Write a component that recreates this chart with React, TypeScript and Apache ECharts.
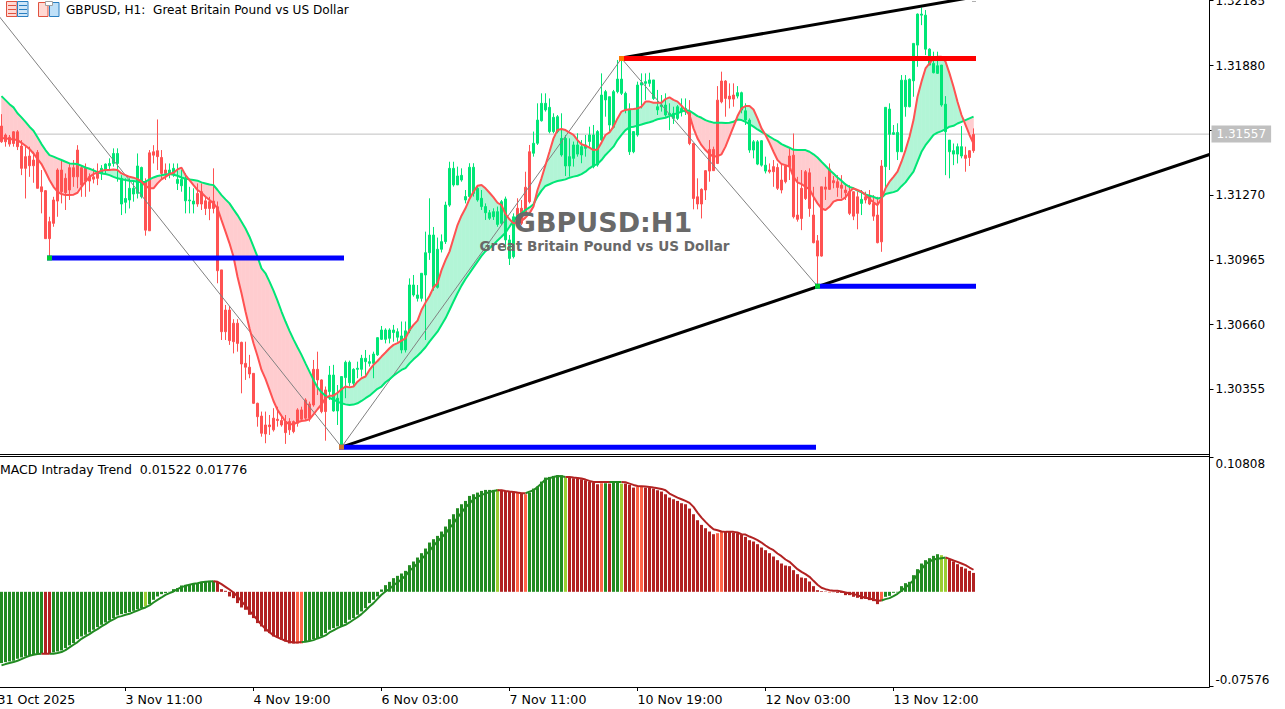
import React, { useEffect, useRef } from "react";
import * as echarts from "echarts";

// Prices are written in points above 1.30000 (1557 = 1.31557). First bar = 31 Oct 2025 04:00, H1.
const BASE = 1.3;
const highs = [
  1651,1560,1553,1571,1576,1529,1498,1498,1474,1482,
  1388,1294,1168,1262,1396,1435,1372,1419,1435,1505,
  1411,1419,1372,1396,1419,1411,1419,1443,1490,1490,
  1364,1349,1349,1341,1466,1404,1349,1482,1505,1626,
  1482,1419,1419,1419,1419,1388,1372,1309,1302,1325,
  1325,1262,1262,1396,1240,918,753,748,686,686,
  580,580,518,431,293,251,251,235,267,274,
  235,235,220,209,267,274,314,298,494,533,
  403,369,466,471,376,416,491,491,455,486,
  518,541,518,533,601,654,643,643,659,643,
  675,675,878,894,847,902,1098,1255,1120,1070,
  1085,1239,1427,1427,1404,1396,1294,1420,1420,1310,
  1294,1231,1200,1208,1216,1247,1263,1082,1184,1255,
  1247,1380,1506,1569,1702,1749,1749,1725,1655,1647,
  1655,1553,1537,1522,1561,1529,1553,1592,1600,1576,
  1843,1765,1733,1765,1906,1914,1757,1702,1569,1804,
  1843,1843,1846,1812,1765,1741,1749,1702,1686,1694,
  1725,1725,1717,1513,1349,1302,1388,1529,1498,1783,
  1851,1811,1796,1796,1783,1757,1702,1631,1529,1529,
  1529,1451,1419,1435,1419,1419,1411,1490,1560,1356,
  1388,1388,1396,1309,1082,1309,1356,1419,1360,1364,
  1364,1325,1317,1286,1286,1294,1286,1294,1270,1262,
  1435,1683,1702,1600,1608,1835,1835,1819,1984,2125,
  2153,2141,1961,1945,1945,1882,1736,1529,1513,1513,
  1595,1498,1482,1584,
];
const bodyHigh = [
  1595,1553,1542,1568,1568,1501,1451,1454,1435,1471,
  1309,1291,1145,1247,1388,1388,1349,1399,1399,1482,
  1399,1399,1356,1356,1380,1396,1416,1419,1466,1466,
  1349,1254,1302,1302,1407,1400,1333,1469,1474,1479,
  1447,1388,1388,1396,1344,1344,1349,1247,1242,1278,
  1286,1243,1239,1242,1215,918,729,729,667,667,
  577,478,460,431,290,230,188,188,220,215,
  209,204,204,204,259,259,306,287,450,450,
  400,353,423,423,314,416,483,483,450,455,
  502,502,486,522,599,635,635,635,635,627,
  607,631,847,847,800,902,999,1082,1082,1015,
  1051,1223,1396,1396,1360,1363,1263,1401,1401,1302,
  1255,1216,1187,1192,1192,1239,1252,1059,1168,1208,
  1208,1307,1474,1514,1623,1702,1702,1683,1636,1639,
  1537,1537,1451,1506,1506,1498,1506,1553,1553,1569,
  1741,1757,1733,1757,1816,1816,1749,1671,1569,1788,
  1799,1804,1812,1812,1686,1694,1694,1655,1655,1686,
  1678,1678,1662,1513,1262,1297,1385,1485,1485,1717,
  1807,1807,1736,1741,1752,1752,1667,1623,1521,1521,
  1526,1411,1388,1404,1400,1341,1407,1454,1458,1176,
  1302,1380,1375,1176,1055,1309,1308,1393,1338,1333,
  1317,1294,1286,1286,1262,1250,1262,1270,1231,1176,
  1407,1683,1675,1564,1565,1811,1811,1815,1984,2122,
  2122,2117,1957,1890,1879,1882,1698,1529,1479,1498,
  1498,1458,1479,1556,
];
const bodyLow = [
  1521,1521,1510,1513,1498,1396,1396,1408,1408,1302,
  1286,1065,1065,1137,1242,1286,1281,1294,1356,1356,
  1317,1336,1336,1345,1349,1372,1388,1408,1419,1419,
  1228,1236,1247,1275,1278,1262,1105,1102,1458,1451,
  1372,1372,1372,1372,1325,1314,1243,1243,1228,1228,
  1228,1207,1207,1207,914,627,627,585,580,572,
  475,460,428,290,227,149,146,180,165,209,
  188,152,165,157,196,215,220,220,282,400,
  251,251,345,254,254,86,411,387,384,450,
  450,486,478,478,518,591,591,596,623,601,
  541,541,631,800,784,784,894,999,836,836,
  1015,1051,1223,1318,1318,1341,1247,1263,1278,1247,
  1216,1187,1161,1168,1132,1137,1059,972,980,1137,
  1137,1184,1239,1467,1514,1620,1671,1569,1569,1569,
  1459,1407,1407,1443,1463,1459,1490,1522,1404,1412,
  1529,1718,1600,1589,1757,1749,1671,1474,1474,1553,
  1788,1796,1796,1725,1671,1686,1647,1647,1631,1631,
  1662,1662,1513,1254,1228,1228,1294,1383,1385,1419,
  1709,1725,1722,1722,1736,1670,1623,1482,1482,1416,
  1411,1383,1380,1380,1302,1294,1333,1404,1168,1156,
  1160,1254,1207,1046,983,983,1298,1297,1328,1306,
  1302,1281,1184,1171,1184,1231,1247,1228,1171,1046,
  1050,1404,1556,1556,1474,1474,1686,1686,1808,1976,
  2117,1957,1882,1846,1843,1694,1568,1474,1463,1463,
  1454,1443,1447,1479,
];
const lows = [
  1516,1498,1498,1498,1482,1364,1254,1356,1328,1302,
  1184,1065,980,1121,1168,1231,1200,1247,1309,1302,
  1262,1262,1286,1325,1317,1341,1372,1388,1404,1333,
  1176,1184,1207,1239,1254,1254,1079,1102,1419,1388,
  1341,1341,1349,1356,1294,1286,1184,1184,1184,1215,
  1200,1176,1152,1184,855,588,588,565,525,533,
  337,400,408,287,180,133,102,141,157,180,
  180,99,141,149,180,212,212,204,274,329,
  243,114,306,251,188,78,314,369,369,408,
  416,416,463,408,513,588,572,572,580,580,
  525,529,620,792,769,769,588,965,820,830,
  1000,1040,1215,1310,1318,1333,1231,1255,1263,1239,
  1200,1153,1153,1153,1121,1129,1012,941,972,1121,
  1129,1176,1231,1451,1506,1616,1663,1561,1561,1561,
  1451,1360,1357,1404,1451,1420,1451,1498,1396,1404,
  1522,1639,1569,1584,1749,1741,1655,1459,1467,1545,
  1678,1718,1780,1718,1647,1663,1639,1576,1605,1623,
  1640,1647,1505,1203,1203,1160,1247,1333,1385,1416,
  1702,1639,1678,1686,1725,1655,1600,1469,1443,1411,
  1404,1372,1372,1309,1294,1278,1325,1341,1160,1145,
  1105,1247,1168,1043,846,980,1247,1294,1302,1262,
  1254,1247,1176,1152,1109,1176,1231,1223,1149,1043,
  1003,1302,1388,1553,1435,1474,1639,1683,1733,1874,
  2070,1929,1882,1843,1840,1686,1364,1349,1411,1419,
  1443,1380,1407,1469,
];
// [isBull, number of bars]
const candleRuns: [number, number][] = [
  [0,25],[1,11],[0,6],[1,7],[0,33],[1,47],[0,4],[1,39],[0,12],[1,8],[0,23],[1,1],[0,5],[1,20],[0,3],
];
const slowMA = [
  1736,1717,1698,1683,1655,1636,1615,1592,1573,1542,
  1510,1482,1458,1451,1443,1435,1427,1419,1418,1416,
  1408,1400,1394,1386,1378,1372,1369,1364,1356,1349,
  1345,1341,1338,1336,1333,1330,1333,1344,1353,1360,
  1363,1367,1369,1366,1361,1353,1347,1344,1341,1338,
  1330,1325,1320,1317,1294,1270,1250,1231,1203,1176,
  1145,1113,1074,1027,980,925,902,863,820,773,
  722,675,631,591,554,518,478,439,400,365,
  342,326,315,307,298,290,285,282,284,290,
  301,314,326,342,358,369,389,403,420,434,
  447,456,478,497,514,533,554,580,604,627,
  659,690,729,769,808,844,875,902,930,957,
  984,1006,1020,1037,1056,1074,1093,1121,1150,1172,
  1184,1200,1212,1227,1263,1291,1313,1321,1330,1336,
  1340,1344,1352,1357,1361,1369,1380,1396,1409,1416,
  1435,1459,1478,1498,1529,1553,1576,1589,1592,1597,
  1602,1608,1613,1619,1627,1631,1634,1642,1650,1655,
  1663,1669,1667,1655,1642,1634,1623,1616,1611,1611,
  1611,1609,1611,1615,1626,1623,1615,1604,1592,1579,
  1568,1557,1545,1534,1524,1510,1501,1493,1483,1482,
  1482,1482,1474,1462,1447,1427,1408,1388,1372,1353,
  1338,1320,1309,1302,1291,1283,1273,1267,1262,1254,
  1258,1275,1280,1284,1291,1312,1330,1356,1380,1427,
  1474,1505,1529,1553,1564,1571,1581,1592,1596,1607,
  1615,1623,1631,1639,
];
const fastMA = [
  1537,1537,1534,1532,1529,1516,1502,1487,1466,1440,
  1416,1380,1341,1309,1286,1275,1270,1270,1272,1281,
  1309,1333,1356,1369,1377,1385,1388,1388,1391,1388,
  1372,1364,1356,1352,1345,1333,1313,1302,1302,1325,
  1344,1356,1369,1375,1391,1399,1364,1341,1317,1294,
  1281,1262,1247,1231,1207,1152,1098,1043,980,886,
  808,722,643,573,513,447,405,353,301,259,
  231,204,191,191,201,207,209,215,238,262,
  285,314,325,326,340,356,369,365,369,392,
  408,416,447,471,489,510,529,549,565,573,
  585,596,635,659,679,729,764,795,836,855,
  917,964,1004,1067,1129,1173,1208,1252,1286,1314,
  1318,1302,1281,1259,1234,1223,1181,1156,1137,1140,
  1148,1164,1184,1216,1294,1349,1412,1474,1537,1576,
  1581,1576,1564,1553,1529,1509,1503,1493,1482,1485,
  1517,1553,1565,1592,1631,1663,1671,1674,1675,1678,
  1686,1710,1710,1705,1705,1705,1722,1730,1718,1710,
  1691,1670,1647,1584,1537,1505,1482,1463,1451,1454,
  1462,1498,1545,1592,1642,1678,1689,1689,1673,1631,
  1584,1553,1516,1474,1435,1416,1411,1404,1356,1330,
  1322,1309,1298,1262,1231,1207,1200,1215,1239,1247,
  1247,1259,1286,1302,1294,1286,1270,1251,1236,1223,
  1254,1302,1333,1356,1380,1427,1482,1545,1623,1733,
  1804,1866,1890,1913,1921,1921,1898,1843,1780,1709,
  1647,1600,1553,1513,
];
// MACD values are written in units of 0.00001
const macdHist = [
  -5735,-5655,-5601,-5548,-5387,-5280,-5199,-5119,-5065,-4985,
  -4958,-5012,-5012,-4878,-4797,-4717,-4529,-4315,-4127,-3806,
  -3591,-3457,-3270,-3055,-2841,-2653,-2466,-2305,-2117,-1903,
  -1796,-1715,-1635,-1528,-1394,-1313,-1179,-992,-643,-375,
  -188,-107,-27,214,295,509,563,616,643,697,
  804,831,884,884,804,214,80,-375,-509,-911,
  -1260,-1447,-1849,-2117,-2519,-2787,-3189,-3323,-3591,-3672,
  -3859,-3993,-4154,-4154,-4154,-4154,-3993,-3940,-3806,-3725,
  -3591,-3323,-3055,-2921,-2787,-2787,-2519,-2251,-2117,-1849,
  -1581,-1313,-911,-643,-375,188,536,804,1099,1286,
  1474,1688,2144,2439,2760,3109,3484,3966,4234,4502,
  4851,5253,5842,6244,6727,7048,7316,7718,7852,7986,
  8120,8201,8201,8201,8254,8201,8120,8067,8067,7986,
  7906,7852,7986,8308,8469,8871,9192,9246,9326,9380,
  9380,9192,9192,9139,9139,9058,8978,8871,8790,8656,
  8737,8737,8710,8844,8844,8710,8710,8603,8388,8442,
  8442,8388,8388,8308,8174,8067,7852,7584,7450,7316,
  7129,7048,6700,6244,5762,5387,5119,4851,4636,4717,
  4824,4851,4824,4770,4717,4583,4422,4154,4047,3832,
  3564,3350,3109,2841,2546,2278,2117,2064,1742,1420,
  1152,1099,831,456,134,54,27,-54,-27,-80,
  -80,-268,-268,-402,-482,-590,-563,-670,-750,-992,
  -750,-402,-322,-80,-54,456,697,804,1340,1822,
  2278,2546,2707,2894,3028,2948,2707,2626,2439,2224,
  2010,1876,1688,1522,
];
const macdSignal = [
  -5923,-5816,-5735,-5655,-5548,-5414,-5280,-5146,-5065,-5012,
  -4985,-4985,-4985,-4985,-4931,-4851,-4690,-4476,-4261,-4047,
  -3779,-3591,-3404,-3189,-3002,-2787,-2600,-2385,-2224,-2037,
  -1956,-1849,-1769,-1635,-1501,-1367,-1260,-1099,-858,-643,
  -456,-241,-107,27,214,375,482,563,643,697,
  777,804,831,858,804,616,402,188,-54,-375,
  -777,-1099,-1528,-1903,-2251,-2653,-2975,-3243,-3511,-3672,
  -3806,-3940,-4020,-4074,-4074,-4047,-4020,-3966,-3886,-3752,
  -3645,-3511,-3270,-3109,-2921,-2787,-2653,-2466,-2251,-2037,
  -1796,-1501,-1179,-911,-563,-241,27,214,536,750,
  1018,1286,1688,1956,2278,2626,2975,3296,3698,4047,
  4368,4690,5119,5494,5976,6378,6780,7102,7450,7638,
  7799,7906,8040,8120,8174,8174,8120,8067,8040,7986,
  7933,7933,8067,8174,8442,8710,9058,9139,9246,9326,
  9300,9246,9246,9192,9166,9112,9032,8924,8844,8844,
  8844,8844,8844,8844,8844,8844,8817,8710,8603,8522,
  8496,8469,8442,8388,8335,8281,8174,7906,7745,7584,
  7450,7316,7156,6834,6378,5976,5628,5306,5038,4958,
  4851,4824,4824,4824,4770,4636,4610,4449,4315,4154,
  3966,3725,3511,3350,3082,2868,2600,2412,2117,1822,
  1608,1420,1206,884,563,322,214,134,80,80,
  27,-54,-107,-188,-268,-402,-482,-536,-616,-724,
  -697,-590,-509,-348,-161,80,348,616,938,1420,
  1822,2224,2439,2600,2653,2707,2760,2653,2519,2412,
  2278,2144,1956,1776,
];
// 0 green, 1 yellow-green, 2 dark red, 3 tomato: [state, number of bars]
const macdRuns: [number, number][] = [
  [0,11],[2,2],[0,23],[1,1],[0,17],[2,20],[3,2],[0,48],[1,1],[2,4],[3,1],[2,1],[3,1],[0,9],[1,1],[2,8],
  [3,1],[0,1],[2,1],[0,2],[1,1],[2,3],[3,2],[2,18],[3,2],[2,26],[3,1],[2,12],[3,1],[0,14],[1,2],[2,7],
];
const macdColors = ["#228B22", "#9ACD32", "#B22222", "#FF6347"];

const tickCats = [0, 32, 64, 96, 128, 160, 192, 224];
const tickTexts = ["31 Oct 2025", "3 Nov 11:00", "4 Nov 19:00", "6 Nov 03:00", "7 Nov 11:00", "10 Nov 19:00", "12 Nov 03:00", "13 Nov 12:00"];
const priceTicks = [1.30355, 1.3066, 1.30965, 1.3127, 1.31575, 1.3188, 1.32185];
const priceLabels = [1.30355, 1.3066, 1.30965, 1.3127, 1.3188, 1.32185];
const macdTicks = [-0.07576, 0.10808];
const lastPrice = 1.31557;

// Drawn objects: [bar number, points]
const zigzag: [number, number][] = [[-1, 2121], [85, 84], [155, 1913], [204, 841]];
const channelUpper: [number, number][] = [[155, 1915], [243, 2202]];
const channelLower: [number, number][] = [[85, 84], [302, 1461]];
const blueLevels: [number, number][][] = [
  [[12, 974], [85, 974]],
  [[85, 83], [203, 83]],
  [[204, 841], [243, 841]],
];
const redLevel: [number, number][] = [[155, 1913], [243, 1913]];
const swingPoints: [number, number, string][] = [
  [12, 974, "#00FF00"],
  [85, 84, "#FF9800"],
  [155, 1913, "#FF9800"],
  [204, 841, "#00FF00"],
];

const CATEGORY_COUNT = 304;
const FONT = "DejaVu Sans";
const UP = "#00E676";
const DOWN = "#FF5252";

const expand = (runs: [number, number][]) => {
  const out: number[] = [];
  runs.forEach(([s, n]) => { for (let i = 0; i < n; i++) out.push(s); });
  return out;
};
const px = (p: number) => BASE + p / 100000;
const cat = (k: number) => k + 1;
const seg = (pts: [number, number][]) => pts.map(([k, p]) => [cat(k), px(p)]);

function buildOption() {
  const categories = Array.from({ length: CATEGORY_COUNT }, (_, i) => String(i));
  const labelOf = new Map(tickCats.map((c, i) => [String(c), tickTexts[i]]));
  const bull = expand(candleRuns);
  const states = expand(macdRuns);
  const candleData = highs.map((h, i) => {
    const o = bull[i] ? bodyLow[i] : bodyHigh[i];
    const c = bull[i] ? bodyHigh[i] : bodyLow[i];
    return [cat(i), px(o), px(c), px(lows[i]), px(h)];
  });
  const isGreen = (i: number) => states[i] < 2;
  const sig = (green: boolean) =>
    macdSignal.map((v, i) => {
      const here = isGreen(i) === green;
      const next = i + 1 < macdSignal.length && isGreen(i + 1) === green;
      return [cat(i), here || next ? v / 100000 : null];
    });

  const thick = (name: string, data: any, color: string, width: number, z: number, cap = "butt") => ({
    type: "line", name, data, xAxisIndex: 0, yAxisIndex: 0, silent: true, symbol: "none", z,
    animation: false, lineStyle: { color, width, cap },
  });

  const series: any[] = [
    {
      ...thick("price line", [[0, lastPrice], [cat(302), lastPrice]], "#C0C0C0", 1, 1),
      clip: false,
      endLabel: {
        show: true, distance: 2, color: "#fff", backgroundColor: "#C0C0C0", padding: [2, 5, 2, 5],
        fontFamily: FONT, fontSize: 12, lineHeight: 13, formatter: () => lastPrice.toFixed(5),
      },
    },
    {
      type: "custom", name: "ribbon", xAxisIndex: 0, yAxisIndex: 0, z: 2, silent: true,
      data: fastMA.slice(0, -1).map((_, i) => [cat(i), i]),
      encode: { x: 0, y: -1 },
      renderItem: (_: any, api: any) => {
        const i = api.value(1);
        const a0 = fastMA[i], a1 = fastMA[i + 1], b0 = slowMA[i], b1 = slowMA[i + 1];
        const x0 = cat(i), x1 = x0 + 1;
        const poly = (pts: number[][], up: boolean) => ({
          type: "polygon",
          shape: { points: pts.map(([x, p]) => api.coord([x, px(p)])) },
          style: { fill: up ? "#B2F5D6" : "#FFCCCF", stroke: up ? "#B2F5D6" : "#FFCCCF", lineWidth: 0.6 },
        });
        const d0 = a0 - b0, d1 = a1 - b1;
        if (d0 * d1 >= 0) {
          return { type: "group", children: [poly([[x0, a0], [x1, a1], [x1, b1], [x0, b0]], d0 + d1 > 0)] };
        }
        const t = d0 / (d0 - d1);
        const xc = x0 + t, pc = a0 + (a1 - a0) * t;
        return {
          type: "group",
          children: [
            poly([[x0, a0], [xc, pc], [x0, b0]], d0 > 0),
            poly([[xc, pc], [x1, a1], [x1, b1]], d1 > 0),
          ],
        };
      },
    },
    {
      type: "candlestick", name: "GBPUSD", xAxisIndex: 0, yAxisIndex: 0, z: 3, silent: true, barWidth: 3,
      data: candleData,
      encode: { x: 0, y: [1, 2, 3, 4] },
      itemStyle: { color: UP, color0: DOWN, borderColor: UP, borderColor0: DOWN, borderColorDoji: UP, borderWidth: 1 },
    },
    thick("zigzag", seg(zigzag), "#808080", 1, 4),
    thick("slow MA", slowMA.map((p, i) => [cat(i), px(p)]), UP, 2, 5),
    thick("fast MA", fastMA.map((p, i) => [cat(i), px(p)]), DOWN, 2, 6),
    thick("channel upper", seg(channelUpper), "#000000", 3, 7),
    thick("channel lower", seg(channelLower), "#000000", 3, 7),
    ...blueLevels.map((l, i) => thick("level " + i, seg(l), "#0000FF", 5, 7, "square")),
    thick("level red", seg(redLevel), "#FF0000", 5, 7, "square"),
    {
      type: "scatter", name: "swings", xAxisIndex: 0, yAxisIndex: 0, z: 8, silent: true, symbol: "rect", symbolSize: 5,
      data: swingPoints.map(([k, p, color]) => ({ value: [cat(k), px(p)], itemStyle: { color } })),
    },
    {
      type: "bar", name: "MACD", xAxisIndex: 1, yAxisIndex: 1, barWidth: 3, silent: true, z: 2,
      data: macdHist.map((v, i) => ({ value: [cat(i), v / 100000], itemStyle: { color: macdColors[states[i]] } })),
    },
    {
      type: "line", name: "signal green", xAxisIndex: 1, yAxisIndex: 1, symbol: "none", silent: true, z: 3,
      data: sig(true), lineStyle: { color: macdColors[0], width: 2 },
    },
    {
      type: "line", name: "signal red", xAxisIndex: 1, yAxisIndex: 1, symbol: "none", silent: true, z: 3,
      data: sig(false), lineStyle: { color: macdColors[2], width: 2 },
    },
  ];

  const frameLine = (x1: number, y1: number, x2: number, y2: number) => ({
    type: "line", silent: true, z: 20, shape: { x1, y1, x2, y2 }, style: { stroke: "#000", lineWidth: 1 },
  });
  const box = (x: number, y: number, w: number, h: number, fill: string, stroke: string) => ({
    type: "rect", silent: true, z: 20, shape: { x, y, width: w, height: h }, style: { fill, stroke, lineWidth: 1 },
  });
  const hline = (x1: number, x2: number, y: number, stroke: string) => ({
    type: "line", silent: true, z: 21, shape: { x1, y1: y, x2, y2: y }, style: { stroke, lineWidth: 1 },
  });

  const graphic: any[] = [
    frameLine(1209.5, 0, 1209.5, 687.5),
    frameLine(0, 454.5, 1209.5, 454.5),
    frameLine(0, 456.5, 1209.5, 456.5),
    frameLine(0, 687.5, 1209.5, 687.5),
    hline(972, 976, 1.5, "#B0B0B0"),
    // toolbar icons
    box(6.5, 1.5, 10.5, 15, "#FFD9D4", "#E0523F"),
    box(17.5, 1.5, 10.5, 15, "#CFE6F8", "#2A7FC0"),
    hline(8, 16, 5.5, "#E0523F"), hline(8, 16, 9.5, "#E0523F"), hline(8, 16, 13.5, "#E0523F"),
    hline(19, 27, 5.5, "#2A7FC0"), hline(19, 27, 9.5, "#2A7FC0"), hline(19, 27, 13.5, "#2A7FC0"),
    box(38.5, 2.5, 9.5, 14, "#FFD9D4", "#E0523F"),
    box(49.5, 2.5, 9.5, 14, "#BFE0F8", "#2A7FC0"),
    box(45.5, 1.5, 7, 4, "#FFFFFF", "#A0A0A0"),
    {
      type: "text", silent: true, z: 20, x: 66, y: 10,
      style: { text: "GBPUSD, H1:  Great Britain Pound vs US Dollar", fontFamily: FONT, fontSize: 12.1, fill: "#000", verticalAlign: "middle" },
    },
    {
      type: "text", silent: true, z: 30, x: 603, y: 222.5,
      style: { text: "GBPUSD:H1", fontFamily: FONT, fontWeight: "bold", fontSize: 27, fill: "#696969", align: "center", verticalAlign: "middle" },
    },
    {
      type: "text", silent: true, z: 30, x: 604.5, y: 245.5,
      style: { text: "Great Britain Pound vs US Dollar", fontFamily: FONT, fontWeight: "bold", fontSize: 13.6, fill: "#696969", align: "center", verticalAlign: "middle" },
    },
    {
      type: "text", silent: true, z: 20, x: 0, y: 469,
      style: { text: "MACD Intraday Trend  0.01522 0.01776", fontFamily: FONT, fontSize: 12.5, fill: "#000", verticalAlign: "middle" },
    },
  ];

  const hiddenX = { show: false };
  const xBase = { type: "category", data: categories, boundaryGap: true, axisLine: { show: false, onZero: false }, splitLine: { show: false } };
  const yBase = {
    type: "value", position: "right", offset: -2, scale: false, splitLine: { show: false },
    axisLine: { show: false },
    axisTick: { show: true, length: 4, lineStyle: { color: "#000" } },
  };

  return {
    animation: false,
    backgroundColor: "#FFFFFF",
    tooltip: { show: false },
    legend: { show: false },
    grid: [
      { left: -4.5, top: 0, width: 1216, height: 454, containLabel: false, outerBoundsMode: "none" },
      { left: -4.5, top: 456, width: 1216, height: 231, containLabel: false, outerBoundsMode: "none" },
    ],
    xAxis: [
      { ...xBase, gridIndex: 0, position: "bottom", axisTick: hiddenX, axisLabel: hiddenX },
      {
        ...xBase, gridIndex: 1, position: "bottom",
        axisTick: {
          show: true, alignWithLabel: true, length: 4, lineStyle: { color: "#000" },
          interval: (_: number, v: string) => labelOf.has(v),
        },
        axisLabel: {
          show: true, margin: 6, align: "left", color: "#000", fontFamily: FONT, fontSize: 12.6,
          interval: (_: number, v: string) => labelOf.has(v),
          formatter: (v: string) => labelOf.get(v) || "",
          hideOverlap: false,
        },
      },
    ],
    yAxis: [
      {
        ...yBase, gridIndex: 0, min: 1.300514, max: 1.321883,
        axisTick: { ...yBase.axisTick, customValues: priceTicks },
        axisLabel: {
          margin: 6, color: "#000", fontFamily: FONT, fontSize: 12, customValues: priceLabels,
          formatter: (v: number) => v.toFixed(5), showMinLabel: true, showMaxLabel: true, hideOverlap: false,
        },
      },
      {
        ...yBase, gridIndex: 1, min: -0.0766, max: 0.1093,
        axisTick: { ...yBase.axisTick, customValues: macdTicks },
        axisLabel: {
          margin: 6, color: "#000", fontFamily: FONT, fontSize: 12, customValues: macdTicks,
          formatter: (v: number) => v.toFixed(5), verticalAlignMinLabel: "bottom", verticalAlignMaxLabel: "top",
          showMinLabel: true, showMaxLabel: true, hideOverlap: false,
        },
      },
    ],
    series,
    graphic,
  };
}

export default function App() {
  const ref = useRef<HTMLDivElement>(null);
  useEffect(() => {
    document.body.style.margin = "0";
    const chart = echarts.init(ref.current!, undefined, { renderer: "svg" });
    chart.setOption(buildOption() as any);
    return () => chart.dispose();
  }, []);
  return <div ref={ref} style={{ width: 1285, height: 709, background: "#fff" }} />;
}
